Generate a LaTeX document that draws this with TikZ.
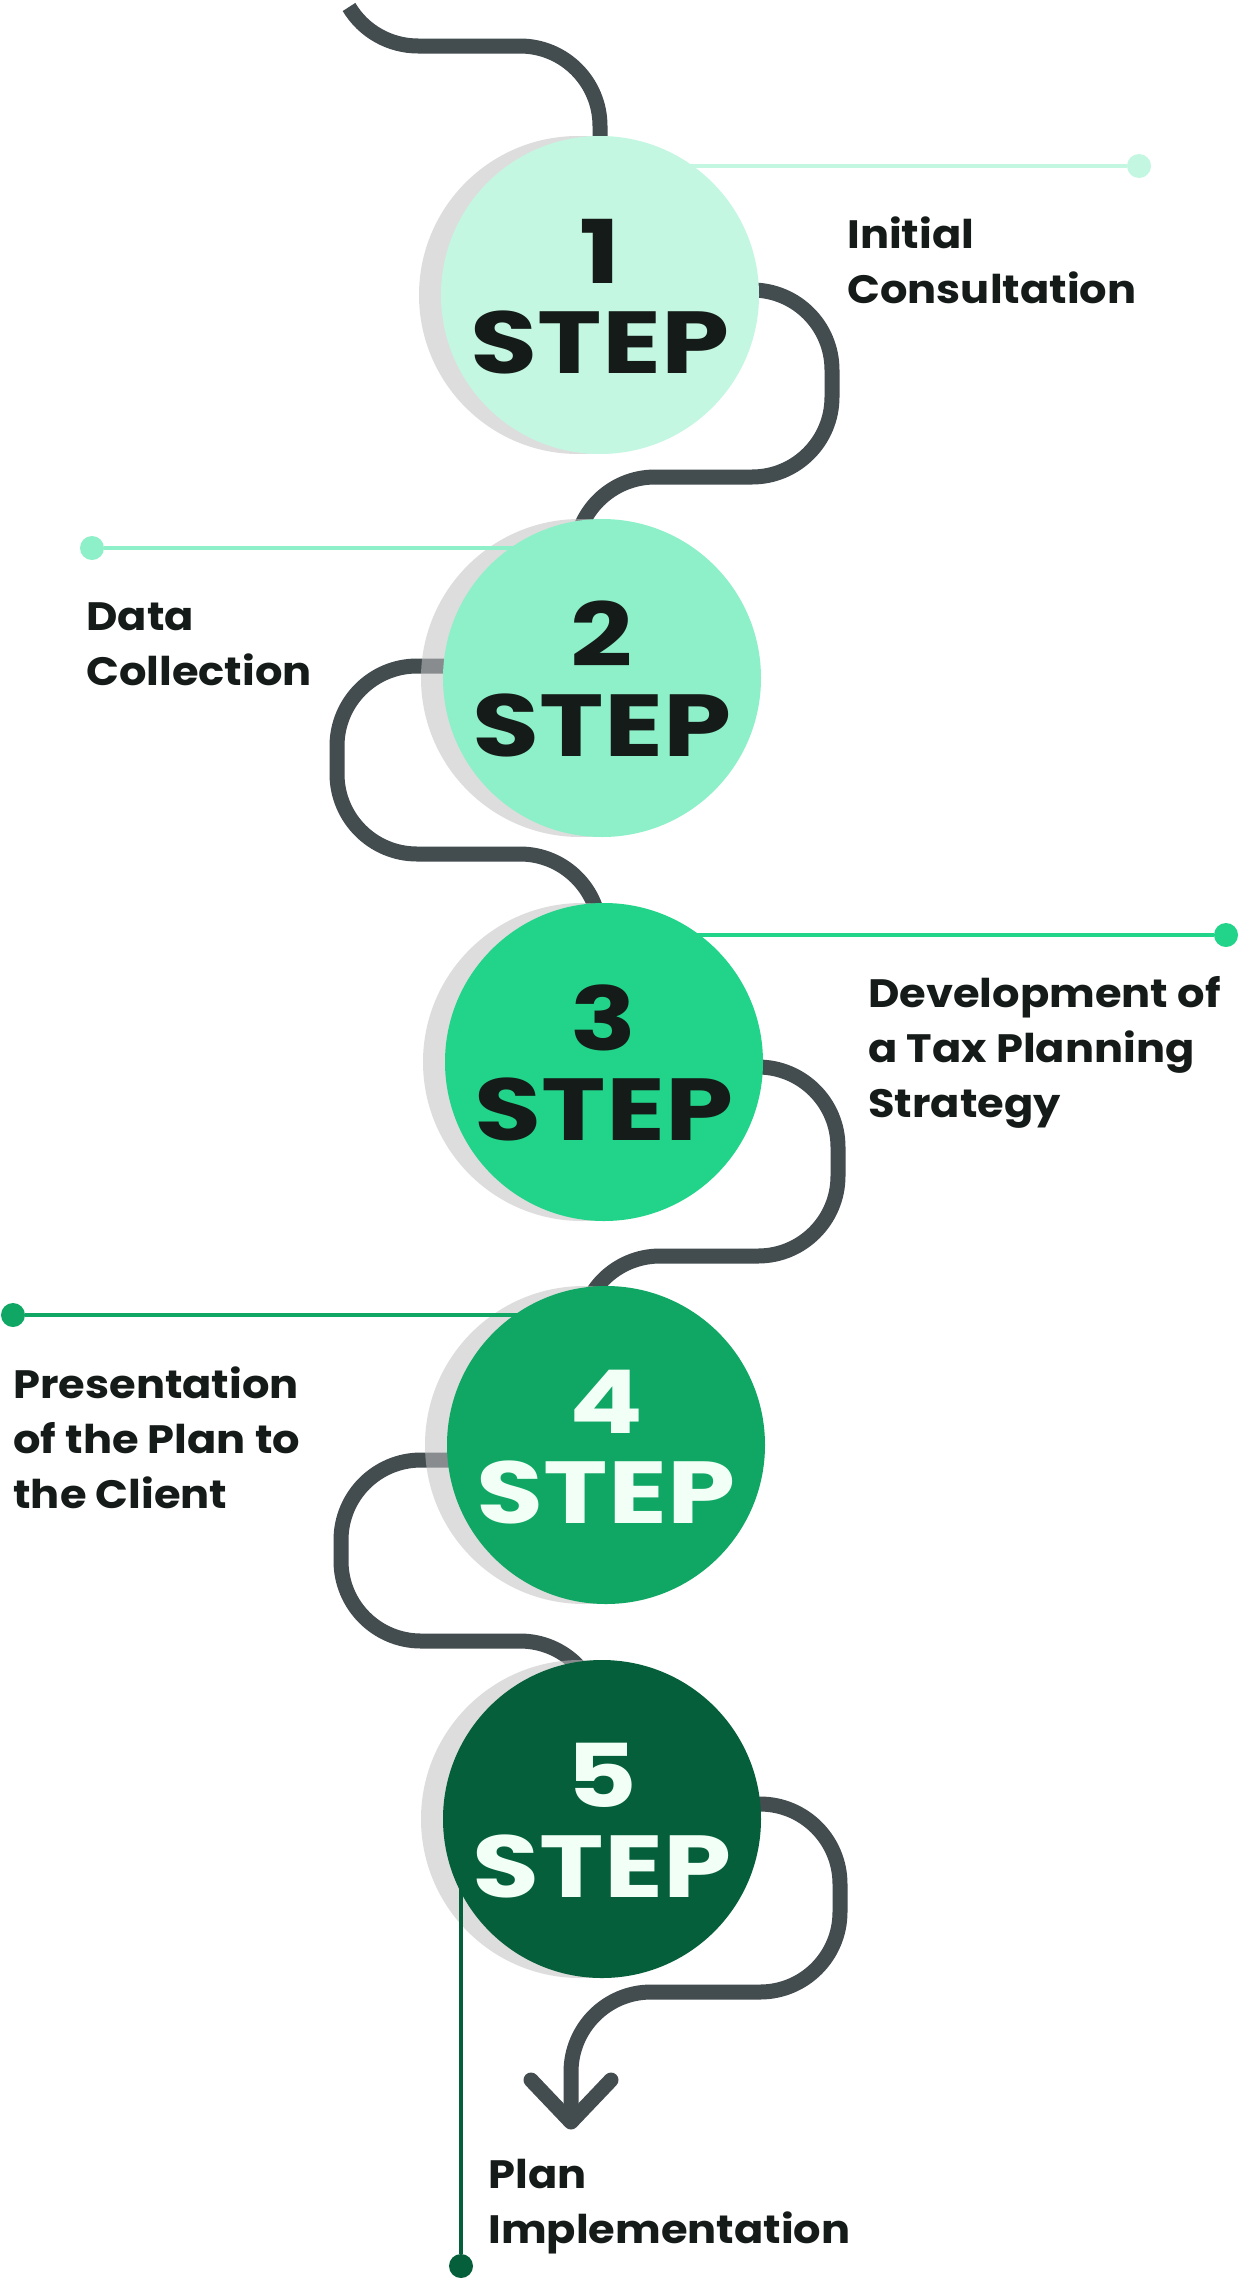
\documentclass[tikz,border=0pt]{standalone}
\usepackage{fontspec}
\setmainfont{Poppins}[FakeStretch=1.09]
\newfontfamily\bigfont{Poppins}[FakeStretch=1.24]
\usetikzlibrary{calc}
\definecolor{wire}{HTML}{434C4F}
\definecolor{shade}{HTML}{C2C2C2}
\definecolor{cA}{HTML}{C3F7E2}
\definecolor{cB}{HTML}{8EF0C9}
\definecolor{cC}{HTML}{22D489}
\definecolor{cD}{HTML}{0FA763}
\definecolor{cE}{HTML}{065F3B}
\definecolor{ink}{HTML}{151B18}
\definecolor{paper}{HTML}{F2FFF6}
\pgfdeclarelayer{bg}
\pgfdeclarelayer{wires}
\pgfdeclarelayer{shadows}
\pgfdeclarelayer{leads}
\pgfsetlayers{bg,wires,shadows,leads,main}
\begin{document}
\begin{tikzpicture}[x=0.5pt,y=-0.5pt,
  wire line/.style={draw=wire, line width=7.5pt},
  wind/.style={wire line, rounded corners=40pt},
  disc/.style={circle, minimum size=159pt, inner sep=0pt, outer sep=0pt},
  shadowdisc/.style={circle, minimum size=159pt, inner sep=0pt, fill=shade, fill opacity=0.55},
  lead/.style={line width=2.2pt},
  dot/.style={circle, minimum size=12pt, inner sep=0pt},
  num/.style={font=\bigfont\bfseries\fontsize{44}{44}\selectfont, anchor=base, inner sep=0pt},
  lbl/.style={font=\bfseries\fontsize{19.8}{27.5}\selectfont, align=left, anchor=base west, text=ink, inner sep=0pt}
]
\useasboundingbox (0,0) rectangle (1239,2281);
\begin{pgfonlayer}{bg}
\fill[white] (0,0) rectangle (1239,2281);
\end{pgfonlayer}

% main discs
\node[disc, fill=cA] (c1) at (600,295) {};
\node[disc, fill=cB] (c2) at (602,678) {};
\node[disc, fill=cC] (c3) at (604,1062) {};
\node[disc, fill=cD] (c4) at (606,1445) {};
\node[disc, fill=cE] (c5) at (602,1819) {};

% numbers
\node[num, text=ink] (n1) at ([yshift=6pt]c1.center) {1};
\node[num, text=ink] (s1) at ([yshift=-39pt]c1.center) {STEP};
\node[num, text=ink] (n2) at ([yshift=6pt]c2.center) {2};
\node[num, text=ink] (s2) at ([yshift=-39pt]c2.center) {STEP};
\node[num, text=ink] (n3) at ([yshift=6pt]c3.center) {3};
\node[num, text=ink] (s3) at ([yshift=-39pt]c3.center) {STEP};
\node[num, text=paper] (n4) at ([yshift=6pt]c4.center) {4};
\node[num, text=paper] (s4) at ([yshift=-39pt]c4.center) {STEP};
\node[num, text=paper] (n5) at ([yshift=6pt]c5.center) {5};
\node[num, text=paper] (s5) at ([yshift=-39pt]c5.center) {STEP};

% labels (anchored at the baseline of the last line)
\node[lbl] (l1) at (847,303) {Initial\\Consultation};
\node[lbl] (l2) at (86,685) {Data\\Collection};
\node[lbl] (l3) at (868,1117) {Development of\\a Tax Planning\\Strategy};
\node[lbl] (l4) at (13,1508) {Presentation\\of the Plan to\\the Client};
\node[lbl] (l5) at (488,2243) {Plan\\Implementation};

% dots
\node[dot, fill=cA] (d1) at (1139,166) {};
\node[dot, fill=cB] (d2) at (92,548) {};
\node[dot, fill=cC] (d3) at (1226,935) {};
\node[dot, fill=cD] (d4) at (13,1315) {};
\node[dot, fill=cE] (d5) at (461,2266) {};

% shadows
\begin{pgfonlayer}{shadows}
\node[shadowdisc] (h1) at ([xshift=-11pt]c1.center) {};
\node[shadowdisc] (h2) at ([xshift=-11pt]c2.center) {};
\node[shadowdisc] (h3) at ([xshift=-11pt]c3.center) {};
\node[shadowdisc] (h4) at ([xshift=-11pt]c4.center) {};
\node[shadowdisc] (h5) at ([xshift=-11pt]c5.center) {};
\end{pgfonlayer}

% leader lines
\begin{pgfonlayer}{leads}
\draw[lead, draw=cA] (d1) -- (d1 -| c1);
\draw[lead, draw=cB] (d2) -- (d2 -| c2);
\draw[lead, draw=cC] (d3) -- (d3 -| c3);
\draw[lead, draw=cD] (d4) -- (d4 -| c4);
\draw[lead, draw=cE] (d5) -- (d5 |- c5);
\end{pgfonlayer}

% winding path
\begin{pgfonlayer}{wires}
\coordinate (start) at (349,7);
\coordinate (tip) at (571,2122);
\draw[wire line] (start) .. controls (363.5,31.3) and (389.8,46) .. (418,46) -- (520,46)
  .. controls (564.2,46) and (600,81.8) .. (600,126) -- (c1.center);
\draw[wind] ([yshift=2.5pt]c1.center) -- (832,290) -- (832,477) -- (575,477) -- ([xshift=-13.5pt]c2.center);
\draw[wind] ([yshift=6pt]c2.center) -- (337,666) -- (337,854) -- (600,854) -- ([xshift=-2pt]c3.center);
\draw[wind] ([yshift=-2.5pt]c3.center) -- (838,1067) -- (838,1256) -- (580,1256) -- ([xshift=-13pt]c4.center);
\draw[wind] ([yshift=-7.5pt]c4.center) -- (341,1460) -- (341,1641) -- (600,1641) -- ([xshift=-1pt]c5.center);
\draw[wind] ([yshift=7.5pt]c5.center) -- (840,1804) -- (840,1992) -- (571,1992) -- (tip);
\draw[wire line, line cap=round, line join=round] ($(tip)+(-40,-42)$) -- (tip) -- ($(tip)+(40,-42)$);
\end{pgfonlayer}
\end{tikzpicture}
\end{document}
